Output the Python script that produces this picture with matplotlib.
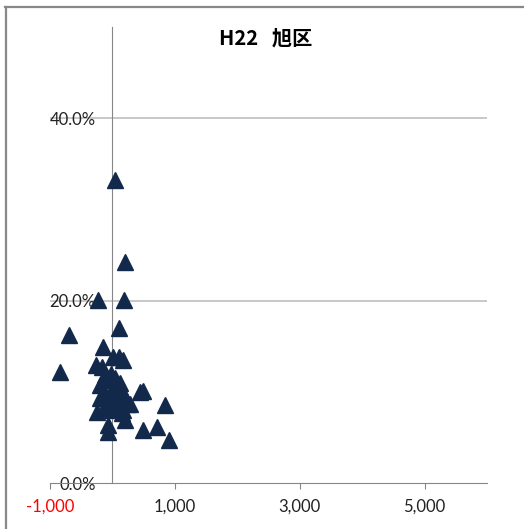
import matplotlib.pyplot as plt
from matplotlib.lines import Line2D
from matplotlib.ticker import FuncFormatter

plt.rcParams['font.family'] = ['Lato', 'Noto Sans CJK JP', 'DejaVu Sans']

# population change (x) vs. rate (y, %)
x_vals = [40, 200, 184, -232, 104, -696, -840, -152, 8, 104, 168, -264, -168,
          440, 488, 840, -248, -72, -72, 200, 152, 488, 712, 904,
          -120, -40, 40, 120, -200, -136, 0, 88, 184, -200, -72, 24, 120,
          232, -120, 0, 88, 168, 280, 56, -24]
y_vals = [33.2, 24.2, 20.1, 20.1, 17.0, 16.2, 12.2, 14.9, 13.8, 13.8, 13.5, 12.9, 12.7,
          10.0, 10.1, 8.5, 7.8, 6.4, 5.6, 6.9, 7.7, 5.8, 6.1, 4.7,
          11.8, 11.3, 11.5, 11.0, 10.7, 10.0, 10.2, 10.4, 9.6, 9.3, 9.1, 8.9, 9.3,
          8.7, 8.2, 8.0, 8.4, 8.0, 8.7, 9.8, 12.0]
x_ticks = [-1000, 1000, 3000, 5000]
y_ticks = [0, 20, 40]
title = 'H22   旭区'

fig = plt.figure(figsize=(5.24, 5.29), dpi=100)
ax = fig.add_axes([50/524, 46/529, 437/524, 456/529])

ax.plot(x_vals, y_vals, linestyle='none', marker='^', markersize=11.5,
        color='#13294B', zorder=3)

ax.set_xlim(-1000, 6000)
ax.set_ylim(0, 50)

for s in ['top', 'right']:
    ax.spines[s].set_visible(False)
ax.spines['left'].set_position(('data', 0))
ax.spines['left'].set_color('#868686')
ax.spines['bottom'].set_color('#868686')

ax.set_yticks(y_ticks)
ax.yaxis.set_major_formatter(FuncFormatter(lambda v, p: f'{v:.1f}%'))
ax.tick_params(axis='y', length=0, pad=12, labelsize=12, labelcolor='#222222')
ax.set_xticks(x_ticks)
ax.xaxis.set_major_formatter(FuncFormatter(lambda v, p: f'{v:,.0f}'))
ax.tick_params(axis='x', length=4, direction='out', color='#868686', pad=7,
               labelsize=12, labelcolor='#222222')
for lab, v in zip(ax.get_xticklabels(), x_ticks):
    if v < 0:
        lab.set_color('red')

for v in y_ticks[1:]:
    ax.axhline(v, color='#BFBFBF', lw=1.2, zorder=1)

fig.text(0.507, 0.928, title, ha='center', va='center', fontsize=14.5, fontweight='bold',
         family=['Noto Sans CJK JP', 'DejaVu Sans'])

# chart border (top & left visible)
fig.add_artist(Line2D([5/524, 1], [1 - 6.5/529, 1 - 6.5/529], color='#888888', lw=1.6,
                      transform=fig.transFigure))
fig.add_artist(Line2D([5.5/524, 5.5/524], [0, 1 - 6.5/529], color='#888888', lw=1.6,
                      transform=fig.transFigure))

fig.savefig('out.png', dpi=100)
